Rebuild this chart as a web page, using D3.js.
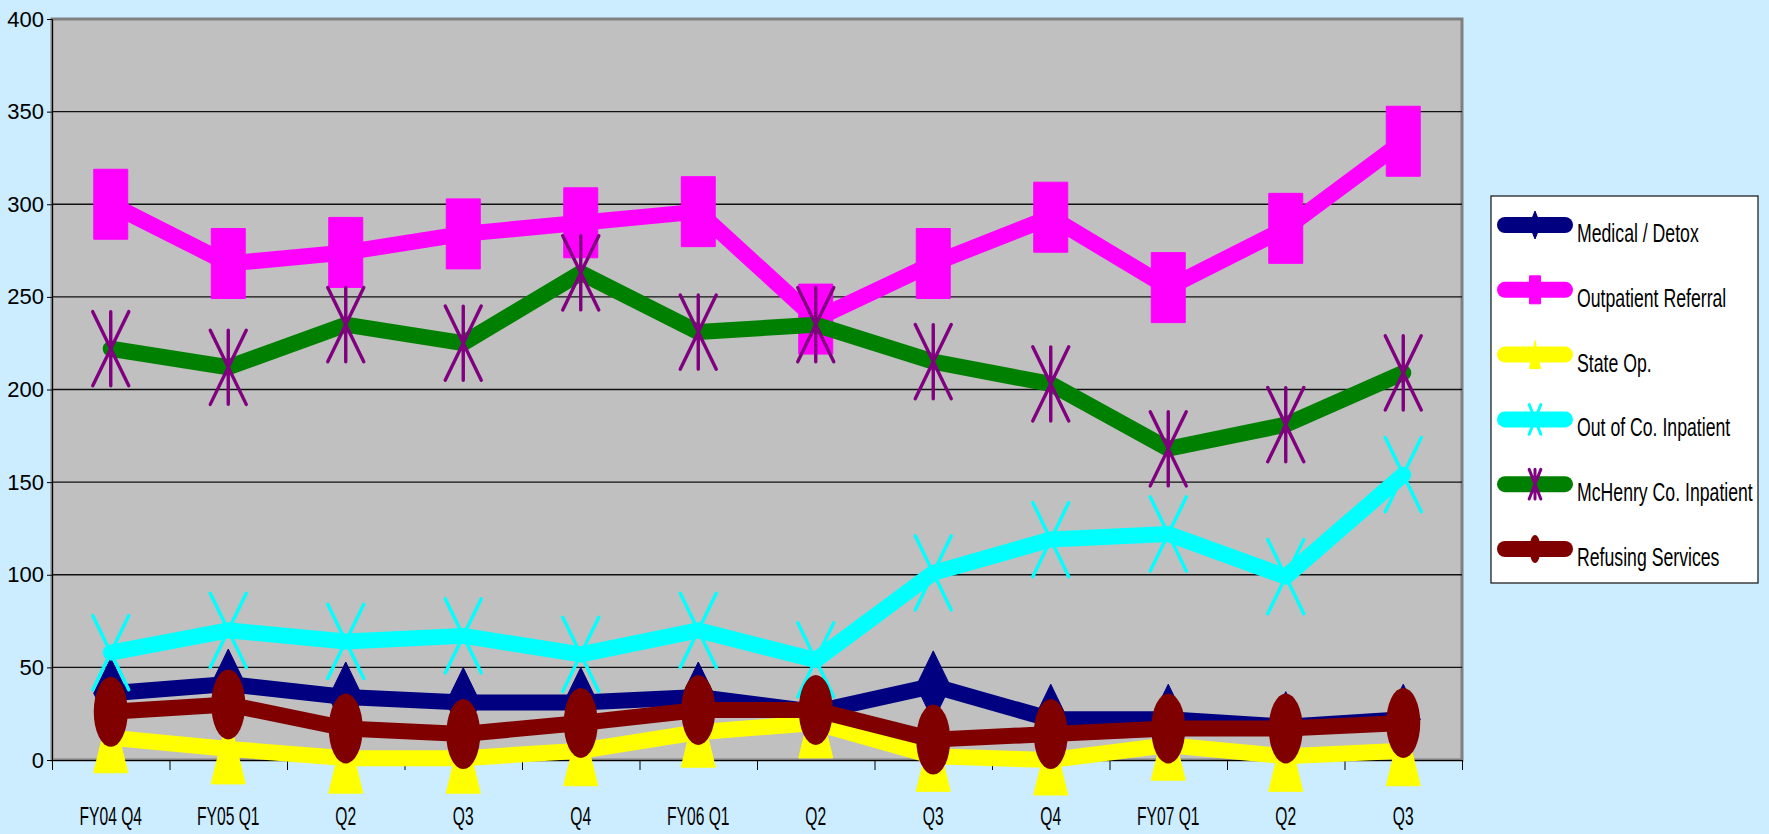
<!DOCTYPE html>
<html>
<head>
<meta charset="utf-8">
<script src="https://cdn.jsdelivr.net/npm/d3@7"></script>
<style>
  html, body { margin: 0; padding: 0; background: #CCECFF; }
  svg { display: block; font-family: "Liberation Sans", Arial, sans-serif; }
</style>
</head>
<body>
<svg id="chart"></svg>
<script>
// values
const quarterLabels = ["FY04 Q4", "FY05 Q1", "Q2", "Q3", "Q4", "FY06 Q1", "Q2", "Q3", "Q4", "FY07 Q1", "Q2", "Q3"];
const medicalDetox = [36, 41, 34, 31, 31, 34, 26, 40, 22, 22, 18, 22];
const outpatientReferral = [300, 268, 274, 284, 290, 296, 238, 268, 293, 255, 287, 334];
const stateOp = [12, 6, 1, 1, 5, 15, 20, 2, 0, 8, 2, 5];
const outOfCoInpatient = [58, 70, 64, 67, 57, 70, 54, 101, 119, 122, 99, 154];
const mcHenryCoInpatient = [222, 212, 235, 225, 263, 231, 235, 215, 203, 168, 181, 209];
const refusingServices = [26, 30, 17, 14, 20, 27, 27, 11, 14, 17, 17, 20];
const yTicks = [0, 50, 100, 150, 200, 250, 300, 350, 400];

const series = [
    {name: "Medical / Detox", values: medicalDetox, color: "#000080", marker: "diamond", markerColor: "#000080"},
    {name: "Outpatient Referral", values: outpatientReferral, color: "#FF00FF", marker: "square", markerColor: "#FF00FF"},
    {name: "State Op.", values: stateOp, color: "#FFFF00", marker: "triangle", markerColor: "#FFFF00"},
    {name: "Out of Co. Inpatient", values: outOfCoInpatient, color: "#00FFFF", marker: "x", markerColor: "#00FFFF"},
    {name: "McHenry Co. Inpatient", values: mcHenryCoInpatient, color: "#008000", marker: "star", markerColor: "#800080"},
    {name: "Refusing Services", values: refusingServices, color: "#800000", marker: "circle", markerColor: "#800000"}
];

const W = 1769, H = 834;
const plot = {left: 52, top: 19, right: 1462, bottom: 760};

const svg = d3.select("#chart").attr("width", W).attr("height", H);
svg.append("rect").attr("width", W).attr("height", H).attr("fill", "#CCECFF");

const x = d3.scaleBand().domain(d3.range(quarterLabels.length)).range([plot.left, plot.right]);
const xEdge = d3.scaleLinear().domain([0, quarterLabels.length]).range([plot.left, plot.right]);
const y = d3.scaleLinear().domain([0, 400]).range([plot.bottom, plot.top]);
const cx = i => x(i) + x.bandwidth() / 2;

// plot area
svg.append("rect")
    .attr("x", plot.left).attr("y", plot.top)
    .attr("width", plot.right - plot.left).attr("height", plot.bottom - plot.top)
    .attr("fill", "#C0C0C0").attr("stroke", "#808080").attr("stroke-width", 3);

svg.append("g").selectAll("line")
    .data(yTicks.filter(d => d > 0 && d < 400))
    .enter().append("line")
        .attr("x1", plot.left).attr("x2", plot.right)
        .attr("y1", d => y(d)).attr("y2", d => y(d))
        .attr("stroke", "#111").attr("stroke-width", 1.3);

// axes
const yAxis = svg.append("g")
    .attr("transform", `translate(${plot.left},0)`)
    .call(d3.axisLeft(y).tickValues(yTicks).tickSize(5).tickPadding(3));
yAxis.selectAll("text").attr("font-size", 22).attr("fill", "#000").attr("font-family", "Liberation Sans, Arial, sans-serif");
yAxis.selectAll("line, path").attr("stroke", "#000");

const xTicks = svg.append("g")
    .attr("transform", `translate(0,${plot.bottom})`)
    .call(d3.axisBottom(xEdge).tickValues(d3.range(quarterLabels.length + 1)).tickFormat("").tickSize(10).tickSizeOuter(0));
xTicks.selectAll("line, path").attr("stroke", "#000");

const xLabels = svg.append("g")
    .attr("transform", `translate(0,${plot.bottom})`)
    .call(d3.axisBottom(x).tickSize(0).tickFormat(i => quarterLabels[i]));
xLabels.select("path").remove();
xLabels.selectAll("text")
    .attr("y", 65).attr("dy", null)
    .attr("font-size", 26).attr("fill", "#000")
    .attr("font-family", "Liberation Sans, Arial, sans-serif")
    .attr("transform", "scale(0.6,1)");

// marker shapes
function markerPath(type, px, py, w, h) {
    const p = d3.path();
    if (type === "triangle") {
        p.moveTo(px, py - h / 2); p.lineTo(px + w / 2, py + h / 2); p.lineTo(px - w / 2, py + h / 2); p.closePath();
    } else if (type === "diamond") {
        p.moveTo(px, py - h / 2); p.lineTo(px + w / 2, py); p.lineTo(px, py + h / 2); p.lineTo(px - w / 2, py); p.closePath();
    } else if (type === "square") {
        p.rect(px - w / 2, py - h / 2, w, h);
    } else if (type === "x" || type === "star") {
        p.moveTo(px - w / 2, py - h / 2); p.lineTo(px + w / 2, py + h / 2);
        p.moveTo(px + w / 2, py - h / 2); p.lineTo(px - w / 2, py + h / 2);
        if (type === "star") { p.moveTo(px, py - h / 2); p.lineTo(px, py + h / 2); }
    }
    return p.toString();
}

function drawMarker(g, s, px, py, w, h, sw) {
    if (s.marker === "circle") {
        g.append("ellipse").attr("cx", px).attr("cy", py).attr("rx", w / 2).attr("ry", h / 2).attr("fill", s.markerColor);
    } else if (s.marker === "x" || s.marker === "star") {
        g.append("path").attr("d", markerPath(s.marker, px, py, w * 1.06, h * 1.06))
            .attr("fill", "none").attr("stroke", s.markerColor).attr("stroke-width", sw).attr("stroke-linecap", "round");
    } else {
        g.append("path").attr("d", markerPath(s.marker, px, py, w, h)).attr("fill", s.markerColor)
            .attr("stroke", s.markerColor).attr("stroke-width", 1).attr("stroke-linejoin", "round");
    }
}

const line = d3.line().x((d, i) => cx(i)).y(d => y(d));

series.forEach(s => {
    const g = svg.append("g");
    g.append("path")
        .attr("d", line(s.values))
        .attr("fill", "none")
        .attr("stroke", s.color)
        .attr("stroke-width", 16)
        .attr("stroke-linejoin", "round")
        .attr("stroke-linecap", "round");
    s.values.forEach((v, i) => drawMarker(g, s, cx(i), y(v), 34, 70, 3.4));
});

// legend
const legend = svg.append("g");
legend.append("rect")
    .attr("x", 1491).attr("y", 196).attr("width", 267).attr("height", 387)
    .attr("fill", "#fff").attr("stroke", "#222").attr("stroke-width", 1.3);

series.forEach((s, k) => {
    const ly = 225 + k * 64.8;
    const g = legend.append("g");
    g.append("line")
        .attr("x1", 1505).attr("x2", 1565).attr("y1", ly).attr("y2", ly)
        .attr("stroke", s.color).attr("stroke-width", 16).attr("stroke-linecap", "round");
    drawMarker(g, s, 1535, ly, 11, 28, 3);
    g.append("text")
        .attr("transform", `translate(1577,${ly + 17}) scale(0.68,1)`)
        .attr("font-size", 26)
        .attr("fill", "#000")
        .text(s.name);
});
</script>
</body>
</html>
